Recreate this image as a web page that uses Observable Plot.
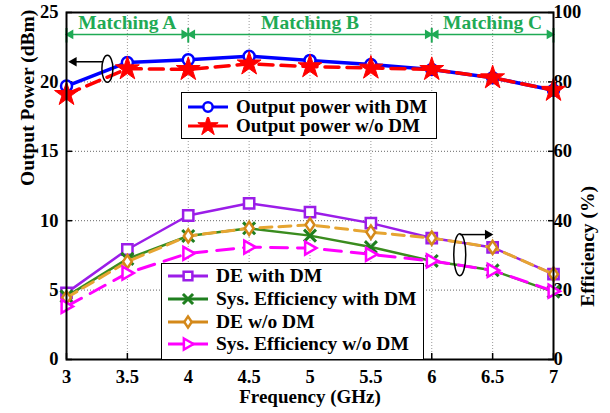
<!DOCTYPE html>
<html>
<head>
<meta charset="utf-8">
<script src="https://cdn.jsdelivr.net/npm/d3@7"></script>
<script src="https://cdn.jsdelivr.net/npm/@observablehq/plot@0.6"></script>
<style>
  html, body { margin: 0; padding: 0; background: #fff; }
  #wrap { position: relative; width: 610px; height: 413px; font-family: "Liberation Serif", "Times New Roman", serif; }
  .legend { position: absolute; background: #fff; border: 1.5px solid #000; box-sizing: border-box; }
  .row { position: absolute; left: 0; display: flex; align-items: center; font-weight: bold; font-size: 19.5px; white-space: nowrap; color: #000; }
  .row svg { display: block; margin-right: 6px; }
</style>
</head>
<body>
<div id="wrap"></div>
<script>
// ---- data ----
const freq = [3, 3.5, 4, 4.5, 5, 5.5, 6, 6.5, 7];
const powerWithDM    = [19.7, 21.4, 21.6, 21.85, 21.55, 21.25, 20.9, 20.3, 19.4];
const powerWithoutDM = [19.1, 20.95, 20.9, 21.3, 21.1, 21.0, 20.9, 20.3, 19.4];
const deWithDM        = [19.2, 31.7, 41.5, 45.0, 42.5, 39.3, 35.0, 32.3, 24.6];
const sysEffWithDM    = [18.2, 29.0, 35.6, 37.8, 35.7, 32.4, 28.4, 25.7, 19.5];
const deWithoutDM     = [17.8, 28.2, 35.6, 37.8, 38.8, 36.7, 35.0, 32.3, 24.6];
const sysEffWithoutDM = [15.3, 24.9, 30.6, 32.4, 32.1, 30.3, 28.4, 25.7, 19.7];
const xTicks = [3, 3.5, 4, 4.5, 5, 5.5, 6, 6.5, 7];
const powerTicks = [0, 5, 10, 15, 20, 25];
const effTicks = [0, 20, 40, 60, 80, 100];
const matchingLabels = ["Matching A", "Matching B", "Matching C"];
const matchingStart = [3, 4, 6];
const matchingEnd = [4, 6, 7];
const seriesLabels = ["Output power with DM", "Output power w/o DM", "DE with DM", "Sys. Efficiency with DM", "DE w/o DM", "Sys. Efficiency w/o DM"];
const xLabel = "Frequency (GHz)";
const yLeftLabel = "Output Power (dBm)";
const yRightLabel = "Efficiency (%)";

// ---- helpers ----
const effScale = 4; // 100 % on right axis == 25 dBm on left axis
const rightTri = { draw(ctx, size) { const s = Math.sqrt(size / Math.PI); ctx.moveTo(-s * 0.75, -s); ctx.lineTo(s, 0); ctx.lineTo(-s * 0.75, s); ctx.closePath(); } };
const tallDiamond = { draw(ctx, size) { const s = Math.sqrt(size / Math.PI); ctx.moveTo(0, -s * 1.2); ctx.lineTo(s * 0.8, 0); ctx.lineTo(0, s * 1.2); ctx.lineTo(-s * 0.8, 0); ctx.closePath(); } };
function ellipse(rx, ry) {
  return { draw(ctx) { const k = 0.5523; ctx.moveTo(rx, 0);
    ctx.bezierCurveTo(rx, ry * k, rx * k, ry, 0, ry);
    ctx.bezierCurveTo(-rx * k, ry, -rx, ry * k, -rx, 0);
    ctx.bezierCurveTo(-rx, -ry * k, -rx * k, -ry, 0, -ry);
    ctx.bezierCurveTo(rx * k, -ry, rx, -ry * k, rx, 0); ctx.closePath(); } };
}

const series = [
  { label: seriesLabels[0], values: powerWithDM, eff: false, color: "#0000ff", mcolor: "#0000ff", width: 3.5, dash: null, symbol: "circle", r: 5.5, fill: "white", sw: 2.5 },
  { label: seriesLabels[1], values: powerWithoutDM, eff: false, color: "#ff0000", mcolor: "#ff0000", width: 3.5, dash: "14,8", symbol: "star", r: 7.5, fill: "#ff0000", sw: 1 },
  { label: seriesLabels[2], values: deWithDM, eff: true, color: "#9b1de8", mcolor: "#9b1de8", width: 2.5, dash: null, symbol: "square", r: 5.8, fill: "white", sw: 2.5 },
  { label: seriesLabels[3], values: sysEffWithDM, eff: true, color: "#3a8c1e", mcolor: "#1f7f1f", width: 2.5, dash: null, symbol: "times", r: 5.5, fill: "none", sw: 3 },
  { label: seriesLabels[4], values: deWithoutDM, eff: true, color: "#e6a532", mcolor: "#d4891a", width: 3, dash: "12,7", symbol: tallDiamond, r: 5.5, fill: "white", sw: 2.5 },
  { label: seriesLabels[5], values: sysEffWithoutDM, eff: true, color: "#ff00ff", mcolor: "#ff00ff", width: 3, dash: "17,10", symbol: rightTri, r: 6.5, fill: "white", sw: 2.5 }
];

const green = "#1faa55";
const matching = matchingLabels.map((label, i) => ({ label, x1: matchingStart[i], x2: matchingEnd[i], xm: (matchingStart[i] + matchingEnd[i]) / 2 }));
const bounds = [...new Set([...matchingStart, ...matchingEnd])];
const arrowY = 23.42, barY1 = 22.8, barY2 = 23.85, labelY = 24.25;

const seriesMarks = [];
for (const s of series) {
  const data = freq.map((f, i) => ({ f, v: s.eff ? s.values[i] / effScale : s.values[i] }));
  seriesMarks.push(Plot.line(data, { x: "f", y: "v", stroke: s.color, strokeWidth: s.width, strokeDasharray: s.dash }));
  seriesMarks.push(Plot.dot(data, { x: "f", y: "v", symbol: s.symbol, r: s.r, stroke: s.mcolor, fill: s.fill, strokeWidth: s.sw }));
}

// power / efficiency indicator ellipses with arrows
const indicators = [
  { cx: 3.336, cy: 20.95, rx: 5.5, ry: 13.5, ax1: 3.30, ax2: 3.06, ay: 21.45, dir: -90 },
  { cx: 6.23, cy: 7.55, rx: 6, ry: 21, ax1: 6.23, ax2: 6.46, ay: 9.0, dir: 90 }
];

const tickFont = 18.5;
const plot = Plot.plot({
  width: 610, height: 413,
  marginLeft: 66, marginRight: 57, marginTop: 12, marginBottom: 54,
  style: { fontFamily: "'Liberation Serif', 'Times New Roman', serif", background: "white", color: "black" },
  x: { domain: [3, 7] },
  y: { domain: [0, 25] },
  marks: [
    Plot.gridX(xTicks.filter(d => d > 3 && d < 7), { stroke: "#999", strokeOpacity: 1, strokeDasharray: "1,2" }),
    Plot.gridY(powerTicks.filter(d => d > 0 && d < 25), { stroke: "#666", strokeOpacity: 1, strokeDasharray: "1,2" }),
    Plot.axisX(xTicks, { anchor: "bottom", tickSize: -6, tickPadding: 16, fontSize: tickFont, fontWeight: "bold", label: null, strokeWidth: 1.5, tickFormat: d => String(d) }),
    Plot.axisY(powerTicks, { anchor: "left", tickSize: -6, tickPadding: 14, fontSize: tickFont, fontWeight: "bold", label: null, strokeWidth: 1.5, tickFormat: d => String(d) }),
    Plot.axisY(effTicks.map(d => d / effScale), { anchor: "right", tickSize: -6, tickPadding: 6, fontSize: tickFont, fontWeight: "bold", label: null, tickFormat: d => String(Math.round(d * effScale)), strokeWidth: 1.5 }),
    ...seriesMarks,
    // matching annotations
    Plot.link(matching, { x1: "x1", x2: "x2", y1: () => arrowY, y2: () => arrowY, stroke: green, strokeWidth: 1.5 }),
    Plot.ruleX(bounds, { y1: barY1, y2: barY2, stroke: green, strokeWidth: 2 }),
    Plot.dot(matching, { x: "x1", y: () => arrowY, symbol: "triangle", rotate: -90, r: 3.6, fill: green, stroke: null, dx: 4 }),
    Plot.dot(matching, { x: "x2", y: () => arrowY, symbol: "triangle", rotate: 90, r: 3.6, fill: green, stroke: null, dx: -4 }),
    Plot.text(matching, { x: "xm", y: () => labelY, text: "label", fill: green, fontSize: 19.5, fontWeight: "bold" }),
    // indicators
    ...indicators.map(d => Plot.dot([d], { x: "cx", y: "cy", symbol: ellipse(d.rx, d.ry), r: 5, stroke: "black", fill: "none", strokeWidth: 1.5 })),
    Plot.link(indicators, { x1: "ax1", x2: "ax2", y1: "ay", y2: "ay", stroke: "black", strokeWidth: 1.5 }),
    Plot.dot(indicators, { x: "ax2", y: "ay", symbol: "triangle", rotate: "dir", r: 3.6, fill: "black", stroke: null }),
    Plot.frame({ stroke: "black", strokeWidth: 2 }),
    // axis titles
    Plot.text([xLabel], { frameAnchor: "bottom", dy: 43, text: d => d, fontSize: 19, fontWeight: "bold" }),
    Plot.text([yLeftLabel], { frameAnchor: "left", dx: -39, rotate: -90, text: d => d, fontSize: 19.5, fontWeight: "bold" }),
    Plot.text([yRightLabel], { frameAnchor: "right", dx: 34, rotate: -90, text: d => d, fontSize: 19.5, fontWeight: "bold" })
  ]
});

const wrap = document.getElementById("wrap");
plot.style.position = "absolute"; plot.style.left = "0"; plot.style.top = "0";
wrap.appendChild(plot);

// ---- legends (HTML overlay) ----
function swatch(s) {
  const svg = d3.create("svg").attr("width", 44).attr("height", 18);
  svg.append("line").attr("x1", 2).attr("x2", 42).attr("y1", 9).attr("y2", 9)
    .attr("stroke", s.mcolor).attr("stroke-width", 3);
  const sym = typeof s.symbol === "string"
    ? { circle: d3.symbolCircle, star: d3.symbolStar, square: d3.symbolSquare, times: d3.symbolTimes }[s.symbol]
    : s.symbol;
  const size = Math.PI * (s.r * 0.85) ** 2;
  svg.append("path").attr("transform", "translate(22,9)").attr("d", d3.symbol(sym, size)())
    .attr("fill", s.fill).attr("stroke", s.mcolor).attr("stroke-width", s.sw);
  return svg.node();
}
function legend(items, box, rowYs, fontSize) {
  const div = document.createElement("div");
  div.className = "legend";
  Object.assign(div.style, { left: box[0] + "px", top: box[1] + "px", width: box[2] + "px", height: box[3] + "px" });
  items.forEach((s, i) => {
    const row = document.createElement("div");
    row.className = "row";
    row.style.fontSize = fontSize + "px";
    row.style.top = (rowYs[i] - box[1] - 11) + "px";
    row.style.height = "22px";
    row.style.left = "4px";
    row.appendChild(swatch(s));
    const t = document.createElement("span");
    t.textContent = s.label;
    row.appendChild(t);
    div.appendChild(row);
  });
  wrap.appendChild(div);
}
legend(series.slice(0, 2), [181, 92, 256, 47], [106, 125], 19);
legend(series.slice(2), [161, 263, 263, 97], [275, 298, 321, 343], 19.5);
</script>
</body>
</html>
